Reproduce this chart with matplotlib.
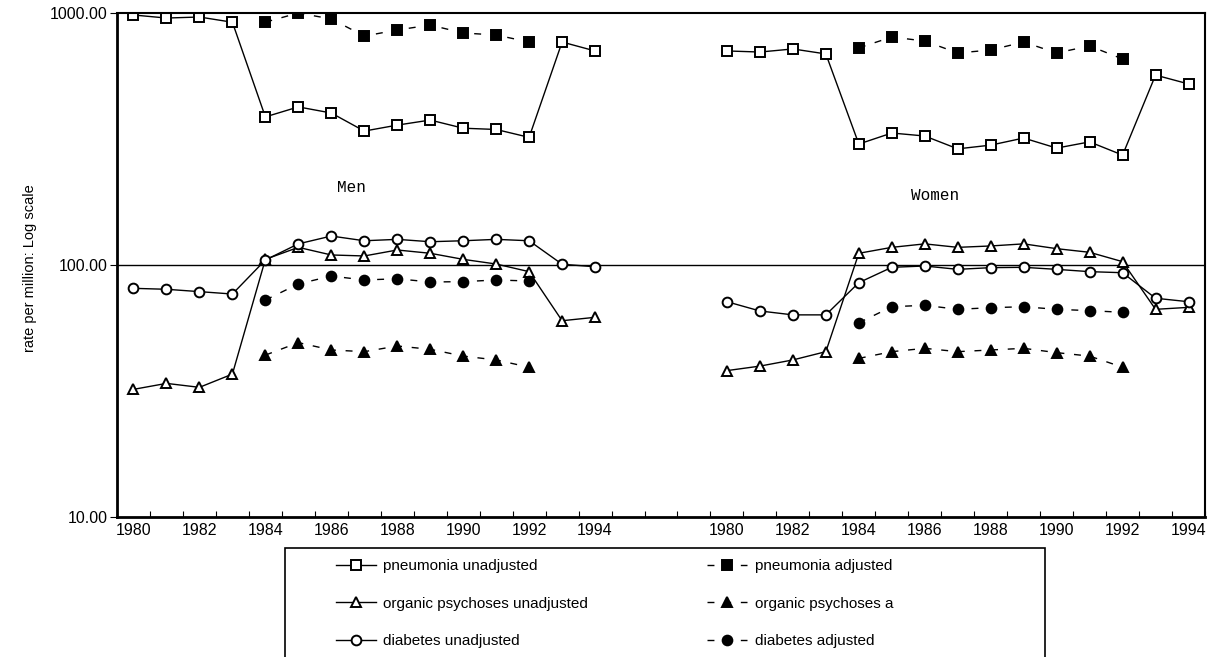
import numpy as np
import matplotlib
matplotlib.use("Agg")
import matplotlib.pyplot as plt
from matplotlib.lines import Line2D
from matplotlib.patches import Rectangle

nan = np.nan
years = list(range(1980, 1995))
tick_years = [str(y) for y in years]

# Men
men_pneu_unadj = [982, 955, 964, 919, 387, 424, 401, 340, 359, 376, 349, 345, 321, 767, 707]
men_pneu_adj = [nan, nan, nan, nan, 920, 1000, 947, 810, 856, 896, 833, 818, 767, nan, nan]
men_org_unadj = [32.1, 33.9, 32.7, 36.9, 105.3, 117.5, 109.6, 108.6, 114.7, 111.3, 105.3, 100.9, 94.1, 60.1, 62.0]
men_org_adj = [nan, nan, nan, nan, 43.9, 49.2, 46.0, 45.3, 47.7, 46.3, 43.5, 42.0, 39.3, nan, nan]
men_diab_unadj = [80.8, 80.1, 78.4, 76.7, 104.7, 121.3, 130.3, 124.8, 126.4, 123.7, 124.8, 126.4, 124.8, 100.7, 98.4]
men_diab_adj = [nan, nan, nan, nan, 72.6, 84.1, 90.4, 87.2, 88.2, 85.6, 85.9, 87.2, 86.4, nan, nan]

# Women
wom_pneu_unadj = [707, 700, 720, 688, 302, 334, 325, 289, 299, 319, 291, 308, 273, 567, 523]
wom_pneu_adj = [nan, nan, nan, nan, 727, 803, 774, 694, 713, 767, 694, 740, 657, nan, nan]
wom_org_unadj = [38.1, 39.7, 42.0, 45.3, 111.3, 117.5, 121.3, 117.5, 119.0, 121.3, 116.1, 112.3, 103.1, 66.7, 67.9]
wom_org_adj = [nan, nan, nan, nan, 42.6, 45.3, 46.7, 45.3, 46.0, 46.7, 44.9, 43.5, 39.3, nan, nan]
wom_diab_unadj = [71.5, 65.7, 63.4, 63.4, 85.1, 97.9, 99.1, 96.1, 97.6, 97.9, 96.1, 94.1, 93.2, 73.8, 71.5]
wom_diab_adj = [nan, nan, nan, nan, 59.0, 68.3, 69.2, 66.7, 67.7, 68.3, 66.7, 65.9, 64.9, nan, nan]

legend_labels = ["pneumonia unadjusted", "organic psychoses unadjusted", "diabetes unadjusted",
                 "pneumonia adjusted", "organic psychoses a", "diabetes adjusted"]

n = len(years)
gap = 3
men_x = np.arange(n)
wom_x = np.arange(n + gap, 2 * n + gap)

W, H = 1212, 657
fig = plt.figure(figsize=(W / 100, H / 100), dpi=100)
ax = fig.add_axes([117 / W, 1 - 517 / H, (1205 - 117) / W, (517 - 13) / H])

ms = 7
mew = 1.4
dash = (0, (5, 7))

unadj_style = dict(color="black", lw=1.0, markerfacecolor="white", markeredgecolor="black",
                   markersize=ms, markeredgewidth=mew)
adj_style = dict(color="black", lw=1.0, linestyle=dash, markerfacecolor="black",
                 markeredgecolor="black", markersize=ms, markeredgewidth=mew)

series = [
    (men_pneu_unadj, wom_pneu_unadj, "s", unadj_style),
    (men_org_unadj, wom_org_unadj, "^", unadj_style),
    (men_diab_unadj, wom_diab_unadj, "o", unadj_style),
    (men_pneu_adj, wom_pneu_adj, "s", adj_style),
    (men_org_adj, wom_org_adj, "^", adj_style),
    (men_diab_adj, wom_diab_adj, "o", adj_style),
]
handles = []
for mvals, wvals, mk, st in series:
    ax.plot(men_x, mvals, marker=mk, **st)
    ax.plot(wom_x, wvals, marker=mk, **st)
    handles.append(Line2D([], [], marker=mk, **st))

ax.axhline(100, color="black", lw=1.0, zorder=0)

ax.set_yscale("log")
ax.set_ylim(10, 1000)
ax.set_xlim(-0.5, 2 * n + gap - 0.5)
ax.set_yticks([10, 100, 1000])
ax.set_yticklabels(["10.00", "100.00", "1000.00"])
ax.yaxis.set_minor_locator(matplotlib.ticker.NullLocator())

xt = list(men_x[::2]) + list(wom_x[::2])
xl = tick_years[::2] + tick_years[::2]
ax.set_xticks(xt)
ax.set_xticklabels(xl)
ax.set_xticks(np.arange(-0.5, 2 * n + gap, 1.0), minor=True)
ax.tick_params(axis="x", which="major", length=0, pad=4, labelsize=11.5)
ax.tick_params(axis="x", which="minor", direction="in", length=4, width=0.8)
ax.tick_params(axis="y", which="major", direction="out", length=5, labelsize=11.5, pad=2)

for lab in ax.get_xticklabels() + ax.get_yticklabels():
    lab.set_family(["Liberation Sans", "DejaVu Sans"])

for side, w in [("left", 2.0), ("bottom", 2.0), ("top", 1.5), ("right", 1.5)]:
    ax.spines[side].set_linewidth(w)
    ax.spines[side].set_color("black")

ax.text(6.6, 10 ** (3 - (187 - 13) / 252), "Men", family="Liberation Mono", fontsize=11.5,
        ha="center", va="center")
ax.text(24.3, 10 ** (3 - (195 - 13) / 252), "Women", family="Liberation Mono", fontsize=11.5,
        ha="center", va="center")

fig.text(30 / W, 1 - 268 / H, "rate per million: Log scale", rotation=90,
         ha="center", va="center", fontsize=10.5,
         family=["Liberation Sans", "DejaVu Sans"])

# legend frame (bottom edge runs past the picture, as in the reference)
fig.patches.append(Rectangle((285 / W, -0.02), (1045 - 285) / W, 0.02 + 1 - 548 / H,
                             transform=fig.transFigure, fill=False, edgecolor="black",
                             linewidth=1.2, clip_on=False))

leg = fig.legend(handles, legend_labels, ncol=2, loc="upper left",
                 bbox_to_anchor=(336 / W, 1 - 559 / H),
                 frameon=False,
                 prop={"family": ["Liberation Sans", "DejaVu Sans"], "size": 11},
                 handlelength=2.6, handletextpad=0.5, columnspacing=7.8,
                 labelspacing=1.55, borderpad=0, borderaxespad=0)

fig.savefig("out.png", dpi=100)
